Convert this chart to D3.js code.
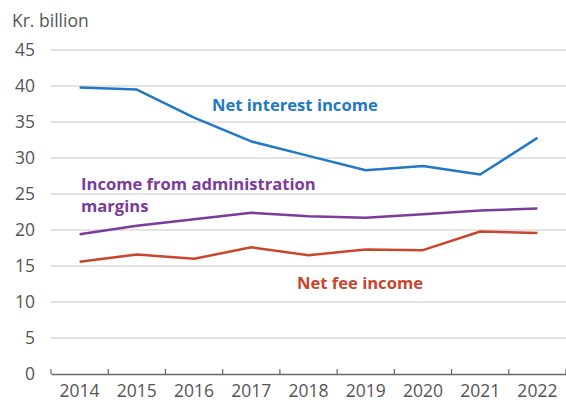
<!DOCTYPE html>
<html>
<head>
<meta charset="utf-8">
<script src="https://cdn.jsdelivr.net/npm/d3@7"></script>
<style>
  html, body { margin: 0; padding: 0; background: #fff; }
  svg { display: block; font-family: "Open Sans", "Noto Sans", sans-serif; }
</style>
</head>
<body>
<svg id="chart" width="566" height="404"></svg>
<script>
// Bank income components, Kr. billion
const years = ["2014", "2015", "2016", "2017", "2018", "2019", "2020", "2021", "2022"];
const netInterest = [39.8, 39.5, 35.6, 32.3, 30.3, 28.3, 28.9, 27.7, 32.8];
const adminMargins = [19.4, 20.6, 21.5, 22.4, 21.9, 21.7, 22.2, 22.7, 23.0];
const netFee = [15.6, 16.6, 16.0, 17.6, 16.5, 17.3, 17.2, 19.8, 19.6];
const yTicks = [0, 5, 10, 15, 20, 25, 30, 35, 40, 45];

const svg = d3.select("#chart");
const plotLeft = 51, plotRight = 566, plotTop = 50, plotBottom = 374;
const axisFont = 17.5;

const x = d3.scaleBand().domain(years).range([plotLeft, plotRight]);
const y = d3.scaleLinear().domain([0, 45]).range([plotBottom, plotTop]);

// Horizontal gridlines
svg.append("g")
  .selectAll("line")
  .data(yTicks.filter(d => d > 0))
  .join("line")
  .attr("x1", plotLeft).attr("x2", plotRight)
  .attr("y1", d => y(d)).attr("y2", d => y(d))
  .attr("stroke", "#c9c9c9").attr("stroke-width", 1.2);

// Y tick labels
svg.append("g")
  .selectAll("text")
  .data(yTicks)
  .join("text")
  .attr("x", 35).attr("y", d => y(d))
  .attr("dy", "0.36em")
  .attr("text-anchor", "end")
  .attr("font-size", axisFont)
  .attr("fill", "#555")
  .text(d => d);

// X axis with ticks between categories
const xAxis = d3.axisBottom(x).tickSize(0).tickPadding(11);
const gx = svg.append("g")
  .attr("transform", `translate(0,${plotBottom})`)
  .call(xAxis);
gx.select(".domain").attr("stroke", "#666").attr("stroke-width", 1.5);
gx.selectAll("text").attr("font-size", axisFont).attr("fill", "#555")
  .attr("font-family", "\"Open Sans\", \"Noto Sans\", sans-serif");
const boundaries = years.map(d => x(d)).concat([x(years[years.length - 1]) + x.bandwidth()]);
svg.append("g")
  .selectAll("line")
  .data(boundaries)
  .join("line")
  .attr("x1", d => d).attr("x2", d => d)
  .attr("y1", plotBottom - 5).attr("y2", plotBottom)
  .attr("stroke", "#666").attr("stroke-width", 1.2);

// Unit label
svg.append("text")
  .attr("x", 12).attr("y", 27)
  .attr("font-size", axisFont).attr("fill", "#555")
  .text("Kr. billion");

// Series lines
const line = d3.line()
  .x((d, i) => x(years[i]) + x.bandwidth() / 2)
  .y(d => y(d));

const series = [
  { values: netInterest, color: "#2278c3" },
  { values: adminMargins, color: "#7b3b9b" },
  { values: netFee, color: "#c9462c" }
];
svg.append("g")
  .selectAll("path")
  .data(series)
  .join("path")
  .attr("d", d => line(d.values))
  .attr("fill", "none")
  .attr("stroke", d => d.color)
  .attr("stroke-width", 2.5)
  .attr("stroke-linejoin", "round");

// Series labels
const labels = [
  { lines: ["Net interest income"], x: 212, y: 111, color: "#2278c3" },
  { lines: ["Income from administration", "margins"], x: 81, y: 190, color: "#7b3b9b" },
  { lines: ["Net fee income"], x: 297, y: 289, color: "#c9462c" }
];
labels.forEach(l => {
  const t = svg.append("text")
    .attr("x", l.x).attr("y", l.y)
    .attr("font-size", 16.6).attr("font-weight", "bold")
    .attr("fill", l.color);
  l.lines.forEach((s, i) => {
    t.append("tspan").attr("x", l.x).attr("dy", i === 0 ? 0 : 22).text(s);
  });
});
</script>
</body>
</html>
